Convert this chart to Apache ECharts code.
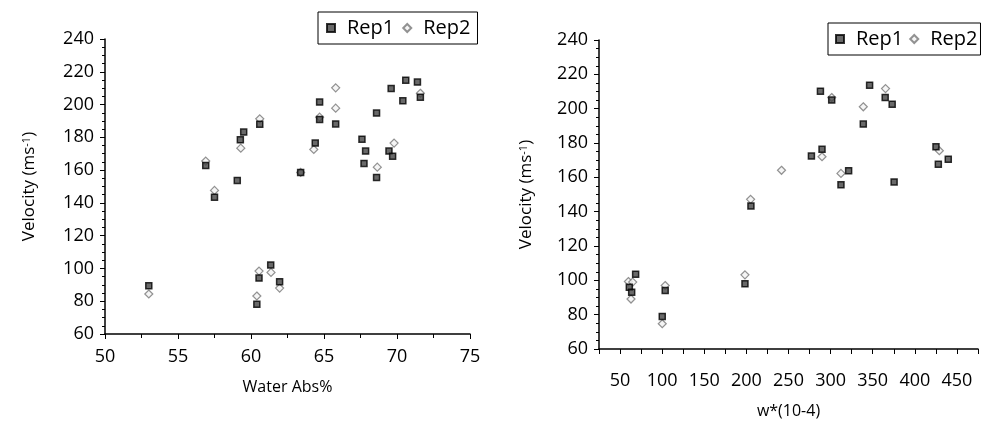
<!DOCTYPE html>
<html><head><meta charset="utf-8">
<script src="https://cdn.jsdelivr.net/npm/echarts@6/dist/echarts.min.js"></script>
<style>html,body{margin:0;padding:0;background:#fff}#c{width:982px;height:424px}</style>
</head><body><div id="c"></div>
<script>
// Left chart: Velocity vs Water Abs%
const waterAbsRep1 = [53.0,56.9,57.5,59.06,59.27,59.5,60.6,60.55,60.4,61.35,61.96,63.4,64.4,64.7,64.7,65.8,67.6,67.85,67.74,68.6,68.6,69.6,69.45,69.7,70.4,70.6,71.4,71.6];
const velocityWARep1 = [89.5,162.8,143.5,153.7,178.5,183.2,188.0,94.1,78.1,102.1,91.9,158.6,176.5,201.5,190.9,188.2,178.9,171.6,164.1,194.8,155.5,209.8,171.6,168.5,202.3,214.9,213.7,204.5];
const waterAbsRep2 = [53.0,56.9,57.5,59.3,60.6,60.55,60.4,61.37,61.96,63.4,64.3,64.7,65.8,65.8,68.65,69.8,71.6];
const velocityWARep2 = [84.4,165.5,147.6,173.4,191.3,98.4,83.2,97.6,88.0,158.6,172.6,192.3,210.2,197.8,161.8,176.5,206.9];
// Right chart: Velocity vs w*(10-4)
const wRep1 = [61.0,63.8,68.5,100.1,103.6,198.3,205.4,277.2,287.9,289.8,301.3,312.3,321.4,338.8,346.3,364.8,373.1,375.4,425.1,427.9,439.7];
const velocityWRep1 = [95.9,93.1,103.6,79.0,94.1,98.0,143.3,172.4,210.2,176.3,205.0,155.7,163.9,191.0,213.7,206.5,202.6,157.3,177.8,167.6,170.5];
const wRep2 = [59.9,65.0,63.0,103.6,100.1,198.3,205.0,241.7,289.8,301.3,312.3,338.8,365.2,429.1];
const velocityWRep2 = [99.3,99.0,89.1,97.0,74.7,103.2,147.2,164.1,172.0,206.5,162.3,201.1,211.7,175.5];
const seriesNames = ['Rep1','Rep2'];
const yTitle = 'Velocity (ms{sup|-1})';
const xTitles = ['Water Abs%','w*(10-4)'];

const zip = (a,b) => a.map((v,i)=>[v,b[i]]);
const font = 'Open Sans';
const lbl = {color:'#000', fontSize:18, fontFamily:font};
const axisLine = {show:true, lineStyle:{color:'#000', width:1.5}};
const nameStyle = {color:'#000', fontSize:17, fontFamily:font,
  rich:{sup:{fontSize:11, fontFamily:font, color:'#000', verticalAlign:'top', lineHeight:8}}};
const rep1Style = {color:'#444', borderColor:'#000', borderWidth:1.5};
const rep2Style = {color:'#f2f2f2', borderColor:'#777', borderWidth:1.2};
const legendText = {color:'#000', fontSize:20, fontFamily:font, padding:[0,0,0,7]};

const option = {
  animation:false,
  backgroundColor:'#fff',
  grid:[
    {left:105, top:39, width:365, height:295},
    {left:599, top:40, width:379, height:310}
  ],
  legend:[
    {left:318, top:12, width:170, orient:'horizontal', data:seriesNames, borderColor:'#000', borderWidth:1,
     padding:[6,7,6,8], itemWidth:8, itemHeight:8, itemGap:8, textStyle:legendText},
    {left:828, top:23, width:170, orient:'horizontal', data:seriesNames, borderColor:'#000', borderWidth:1,
     padding:[6,3,6,7], itemWidth:8, itemHeight:8, itemGap:6, textStyle:legendText}
  ],
  xAxis:[
    {gridIndex:0, type:'value', min:50, max:75, interval:5, axisLine, splitLine:{show:false},
     axisTick:{show:true, inside:false, length:5, lineStyle:{color:'#000'}},
     minorTick:{show:true, splitNumber:2, length:4, lineStyle:{color:'#000'}},
     axisLabel:{...lbl, margin:14},
     name:xTitles[0], nameLocation:'middle', nameGap:45, nameTextStyle:{color:'#000', fontSize:16, fontFamily:font}},
    {gridIndex:1, type:'value', min:25, max:475, interval:25, axisLine, splitLine:{show:false},
     axisTick:{show:true, inside:false, length:5, lineStyle:{color:'#000'}},
     axisLabel:{...lbl, margin:23, formatter:v => (v%50===0 && v>=50 && v<=450) ? String(v) : ''},
     name:xTitles[1], nameLocation:'middle', nameGap:54, nameTextStyle:{color:'#000', fontSize:16, fontFamily:font}}
  ],
  yAxis:[
    {gridIndex:0, type:'value', min:60, max:240, interval:20, axisLine, splitLine:{show:false},
     axisTick:{show:true, length:5, lineStyle:{color:'#000'}},
     minorTick:{show:true, splitNumber:4, length:3, lineStyle:{color:'#000'}},
     axisLabel:{...lbl, margin:11},
     name:yTitle, nameLocation:'middle', nameGap:67, nameTextStyle:nameStyle},
    {gridIndex:1, type:'value', min:60, max:240, interval:20, axisLine, splitLine:{show:false},
     axisTick:{show:true, length:5, lineStyle:{color:'#000'}},
     minorTick:{show:true, splitNumber:4, length:3, lineStyle:{color:'#000'}},
     axisLabel:{...lbl, margin:11},
     name:yTitle, nameLocation:'middle', nameGap:64, nameTextStyle:nameStyle}
  ],
  series:[
    {name:'Rep2', type:'scatter', xAxisIndex:0, yAxisIndex:0, symbol:'diamond', symbolSize:8, itemStyle:rep2Style, data:zip(waterAbsRep2, velocityWARep2), z:2},
    {name:'Rep1', type:'scatter', xAxisIndex:0, yAxisIndex:0, symbol:'rect', symbolSize:6, itemStyle:rep1Style, data:zip(waterAbsRep1, velocityWARep1), z:3},
    {name:'Rep2', type:'scatter', xAxisIndex:1, yAxisIndex:1, symbol:'diamond', symbolSize:8, itemStyle:rep2Style, data:zip(wRep2, velocityWRep2), z:2},
    {name:'Rep1', type:'scatter', xAxisIndex:1, yAxisIndex:1, symbol:'rect', symbolSize:6, itemStyle:rep1Style, data:zip(wRep1, velocityWRep1), z:3}
  ]
};
const chart = echarts.init(document.getElementById('c'), null, {renderer:'canvas'});
chart.setOption(option);
</script></body></html>
